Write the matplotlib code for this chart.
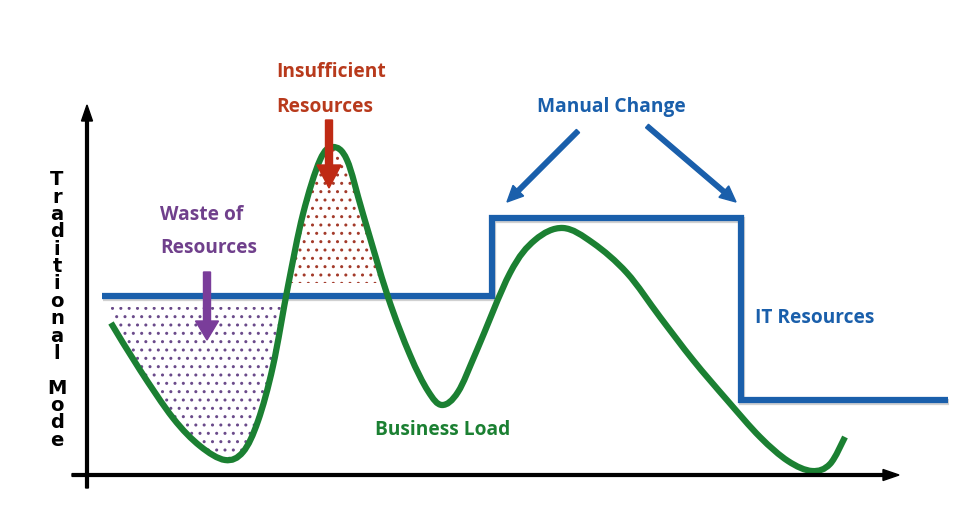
import matplotlib
matplotlib.use("Agg")
import matplotlib.pyplot as plt
import matplotlib.patheffects as pe
from matplotlib.path import Path
from matplotlib.patches import PathPatch
import numpy as np

# business load curve, key points (time, load)
load_t = [23, 52, 85, 112, 137, 155, 170, 185, 200, 215, 232, 245, 259, 275, 300, 322,
          340, 354, 370, 389, 422, 447, 475, 505, 539, 572, 605, 639, 672, 700, 724,
          742, 757]
load_y = [153, 106, 58, 30, 16, 24, 55, 110, 190, 262, 316, 329, 316, 262, 179, 121,
          85, 71, 84, 126, 203, 236, 248, 233, 203, 159, 116, 76, 39, 15, 5,
          12, 39]

# IT resources (step levels)
it_t = [14, 404, 653, 860]
it_y = [180, 258, 76, 76]

waste_level = 169
short_level = 193

# annotation arrows: (start_t, start_y, end_t, end_y)
manual_arrows = [(490, 345, 419, 274), (559, 350, 648, 274)]
short_arrow = (241, 356, 241, 288)
waste_arrow = (119, 204, 119, 136)

blue = "#1a5fab"
green = "#1b8032"
red = "#bf2a14"
purple = "#7a3d9a"

plt.rcParams["font.family"] = ["Open Sans", "DejaVu Sans"]
plt.rcParams["hatch.linewidth"] = 1.0

fig = plt.figure(figsize=(9.58, 5.09), dpi=100)
ax = fig.add_axes([0, 0, 1, 1])
ax.set_xlim(-88, 870)
ax.set_ylim(-33, 476)
ax.axis("off")

t = np.array(load_t, dtype=float)
y = np.array(load_y, dtype=float)
pts = np.column_stack([t, y])


def smooth_path(p):
    # catmull-rom through the read points, drawn as cubic bezier segments
    verts = [p[0]]
    codes = [Path.MOVETO]
    n = len(p)
    for i in range(n - 1):
        p0 = p[max(i - 1, 0)]
        p1 = p[i]
        p2 = p[i + 1]
        p3 = p[min(i + 2, n - 1)]
        verts += [p1 + (p2 - p0) / 6, p2 - (p3 - p1) / 6, p2]
        codes += [Path.CURVE4] * 3
    return Path(verts, codes)


# hatched areas
ax.fill_between(t, y, waste_level, where=(y <= waste_level) & (t < 250), interpolate=True,
                facecolor="white", edgecolor="#6a4a8a", hatch="..", linewidth=0, zorder=1)
ax.fill_between(t, y, short_level, where=(y >= short_level) & (t < 320), interpolate=True,
                facecolor="white", edgecolor="#a33a2a", hatch="..", linewidth=0, zorder=1)

# IT resources line
ax.step(it_t, it_y, where="post", color=blue, lw=4.5, solid_joinstyle="miter",
        solid_capstyle="butt", zorder=3,
        path_effects=[pe.SimpleLineShadow(offset=(1, -1.5), alpha=0.18), pe.Normal()])

# business load line
ax.add_patch(PathPatch(smooth_path(pts), facecolor="none", edgecolor=green, lw=4.5,
                       capstyle="butt", joinstyle="round", zorder=4))

# axes with arrows
ax.arrow(-1, -12, 0, 383, width=2.8, head_width=11, head_length=16,
         length_includes_head=True, color="black", zorder=5)
ax.arrow(-16, 1, 827, 0, width=2.8, head_width=11, head_length=16,
         length_includes_head=True, color="black", zorder=5)

# annotation arrows
for x0, y0, x1, y1 in manual_arrows:
    ax.arrow(x0, y0, x1 - x0, y1 - y0, width=4.5, head_width=15, head_length=16,
             length_includes_head=True, color=blue, zorder=5)
x0, y0, x1, y1 = short_arrow
ax.arrow(x0, y0, x1 - x0, y1 - y0, width=7, head_width=24, head_length=23,
         length_includes_head=True, color=red, zorder=5)
x0, y0, x1, y1 = waste_arrow
ax.arrow(x0, y0, x1 - x0, y1 - y0, width=7, head_width=23, head_length=19,
         length_includes_head=True, color=purple, zorder=5)

# labels
fs = 13.8
ax.text(188, 399, "Insufficient", color="#b83a1c", fontsize=fs, fontweight="bold", ha="left", va="baseline")
ax.text(188, 364, "Resources", color="#b83a1c", fontsize=fs, fontweight="bold", ha="left", va="baseline")
ax.text(72, 256, "Waste of", color="#70408c", fontsize=fs, fontweight="bold", ha="left", va="baseline")
ax.text(72, 223, "Resources", color="#70408c", fontsize=fs, fontweight="bold", ha="left", va="baseline")
ax.text(449, 364, "Manual Change", color=blue, fontsize=fs, fontweight="bold", ha="left", va="baseline")
ax.text(287, 41, "Business Load", color=green, fontsize=fs, fontweight="bold", ha="left", va="baseline")
ax.text(667, 153, "IT Resources", color=blue, fontsize=fs, fontweight="bold", ha="left", va="baseline")

label = "\n".join(list("Traditional") + [""] + list("Mode"))
ax.text(-31, 166, label, color="black", fontsize=14, fontweight="bold", ha="center",
        va="center", linespacing=0.89, family=["DejaVu Sans"])

fig.savefig("out.png", dpi=100)
